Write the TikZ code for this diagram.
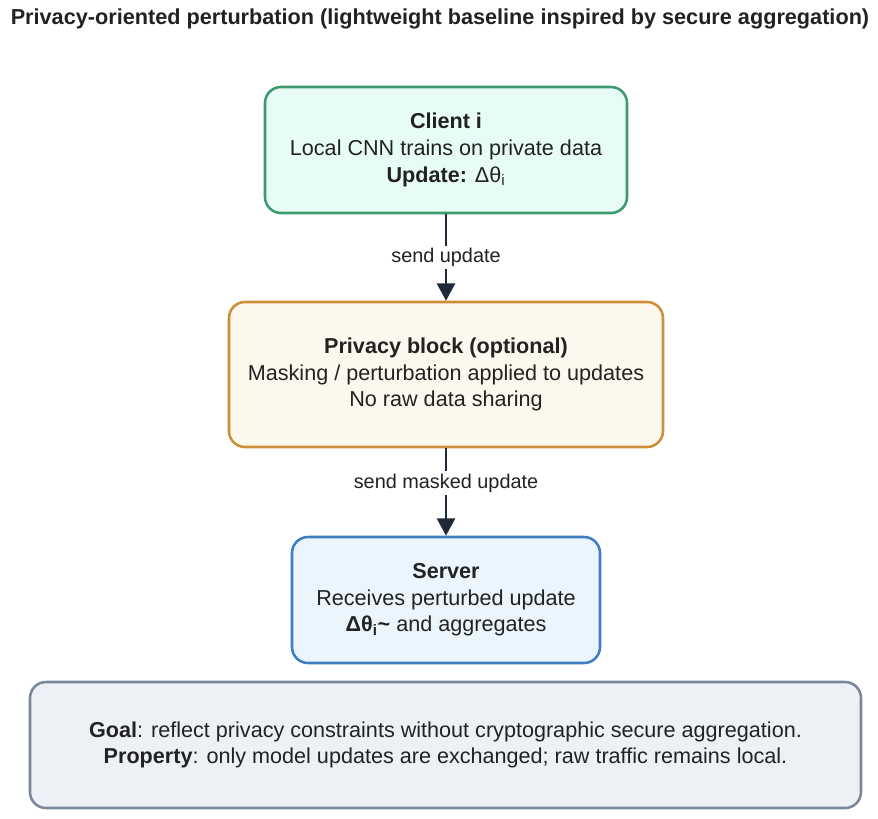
\documentclass[tikz,border=0pt]{standalone}
\usepackage{fontspec}
\setmainfont{Liberation Sans}
\usetikzlibrary{arrows.meta}
\definecolor{inkc}{HTML}{222222}
\definecolor{arrowc}{HTML}{1F2937}
\definecolor{clientdraw}{HTML}{3C9A6E}
\definecolor{clientfill}{HTML}{E8FCF7}
\definecolor{privdraw}{HTML}{CC8E38}
\definecolor{privfill}{HTML}{FDF8EE}
\definecolor{servdraw}{HTML}{3F7CC4}
\definecolor{servfill}{HTML}{EAF5FE}
\definecolor{notedraw}{HTML}{7A8699}
\definecolor{notefill}{HTML}{EDF1F5}
\tikzset{
  boxy/.style={draw, rounded corners=12pt, line width=1.9pt, align=center,
    text=inkc, inner sep=0pt, font=\fontsize{16.2}{20}\selectfont},
  flow/.style={draw=arrowc, line width=1.9pt,
    -{Triangle[width=13.5pt,length=13pt]}},
  flowlabel/.style={fill=white, text=inkc, inner sep=2pt,
    font=\fontsize{14.9}{17}\selectfont}
}
\begin{document}
\begin{tikzpicture}[x=0.75pt,y=-0.75pt]
\useasboundingbox (0,0) rectangle (878,818);
% title
\node[text=inkc, font=\fontsize{16.25}{19}\selectfont\bfseries] (title) at (440,19)
  {Privacy-oriented perturbation (lightweight baseline inspired by secure aggregation)};
% the three stages
\node[boxy, draw=clientdraw, fill=clientfill, minimum width=271.5pt, minimum height=94.5pt]
  (client) at (446,150)
  {\textbf{Client i}\\Local CNN trains on private data\\\textbf{Update:} Δθ\textsubscript{i}};
\node[boxy, draw=privdraw, fill=privfill, minimum width=325.5pt, minimum height=108.75pt]
  (privacy) at (446,374.5)
  {\textbf{Privacy block (optional)}\\Masking / perturbation applied to updates\\No raw data sharing};
\node[boxy, draw=servdraw, fill=servfill, minimum width=231pt, minimum height=94.5pt]
  (server) at (446,600)
  {\textbf{Server}\\Receives perturbed update\\\textbf{Δθ\textsubscript{i}\textasciitilde} and aggregates};
% note
\node[boxy, draw=notedraw, fill=notefill, minimum width=623.25pt, minimum height=94.5pt]
  (note) at (445.5,745)
  {\raisebox{-3pt}{\parbox{620pt}{\centering
   \textbf{Goal}: reflect privacy constraints without cryptographic secure aggregation.\\
   \textbf{Property}: only model updates are exchanged; raw traffic remains local.}}};
% arrows
\draw[flow] (client) -- node[flowlabel] {send update} (privacy);
\draw[flow] (privacy) -- node[flowlabel, pos=0.4] {send masked update} (server);
\end{tikzpicture}
\end{document}
